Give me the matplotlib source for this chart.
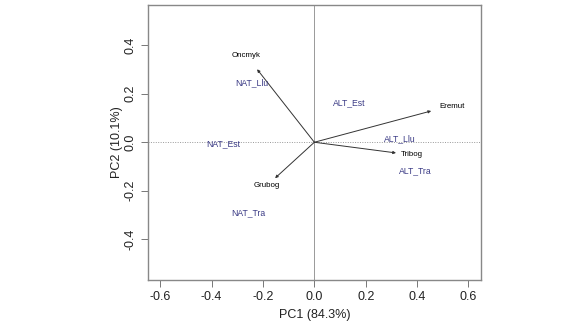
import matplotlib
matplotlib.use("Agg")
import matplotlib.pyplot as plt

plt.rcParams['font.family'] = ['Liberation Sans', 'DejaVu Sans']

species = ["Oncmyk", "Eremut", "Tribog", "Grubog"]
sp_pc1 = [-0.223, 0.455, 0.318, -0.153]
sp_pc2 = [0.301, 0.129, -0.044, -0.148]
lab_pc1 = [-0.266, 0.535, 0.379, -0.184]
lab_pc2 = [0.357, 0.147, -0.052, -0.179]

sites = ["NAT_Llu", "ALT_Est", "NAT_Est", "ALT_Llu", "ALT_Tra", "NAT_Tra"]
site_pc1 = [-0.244, 0.135, -0.354, 0.331, 0.394, -0.257]
site_pc2 = [0.245, 0.162, -0.008, 0.015, -0.116, -0.292]

xticks = [-0.6, -0.4, -0.2, 0.0, 0.2, 0.4, 0.6]
yticks = [-0.4, -0.2, 0.0, 0.2, 0.4]

fig = plt.figure(figsize=(5.79, 3.25), dpi=100)
ax = fig.add_axes([0.2556, 0.1385, 0.5751, 0.8461])
ax.set_xlim(-0.648, 0.649)
ax.set_ylim(-0.568, 0.566)

ax.axvline(0, color='#999999', lw=0.7, zorder=1)
ax.axhline(0, color='#999999', lw=0.7, ls=(0, (1, 1.5)), zorder=1)

for x, y in zip(sp_pc1, sp_pc2):
    ax.annotate("", xy=(x, y), xytext=(0, 0),
                arrowprops=dict(arrowstyle='-|>', color='#333333', lw=0.7,
                                mutation_scale=4, shrinkA=0, shrinkB=0))
for name, x, y in zip(species, lab_pc1, lab_pc2):
    ax.text(x, y, name, fontsize=5.7, color='black', ha='center', va='center')
for name, x, y in zip(sites, site_pc1, site_pc2):
    ax.text(x, y, name, fontsize=6.2, color='#3a3a85', ha='center', va='center')

ax.set_xticks(xticks)
ax.set_xticklabels([f"{t:.1f}" for t in xticks])
ax.set_yticks(yticks)
ax.set_yticklabels([f"{t:.1f}" for t in yticks], rotation=90, va='center')
ax.tick_params(axis='both', direction='out', length=5, width=0.7, color='#777777',
               labelsize=9, pad=3, labelcolor='#222222')
for s in ax.spines.values():
    s.set_color('#888888')
    s.set_linewidth(1.0)

ax.set_xlabel("PC1 (84.3%)", fontsize=9, labelpad=4, color='#222222')
ax.set_ylabel("PC2 (10.1%)", fontsize=9, labelpad=1, color='#222222')

fig.savefig("out.png", dpi=100)
